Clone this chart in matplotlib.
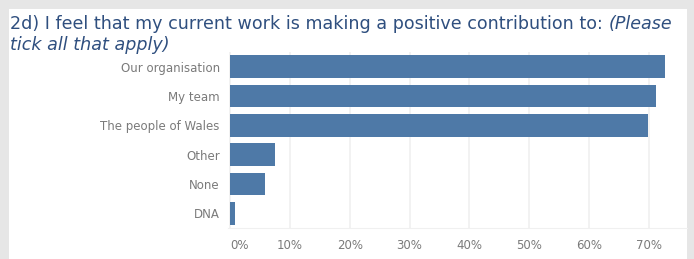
import matplotlib
matplotlib.use("Agg")
import matplotlib.pyplot as plt
from matplotlib.patches import Rectangle
from matplotlib.ticker import FuncFormatter

categories = ["Our organisation", "My team", "The people of Wales", "Other", "None", "DNA"]
percentages = [72.7, 71.2, 69.8, 7.6, 5.8, 0.8]
tick_values = [0, 10, 20, 30, 40, 50, 60, 70]

W, H = 694, 259
fig = plt.figure(figsize=(W / 100, H / 100), dpi=100)
fig.patch.set_facecolor("#e6e6e6")

# white panel behind everything
fig.patches.append(Rectangle((9 / W, 0), (687 - 9) / W, (H - 9) / H,
                             transform=fig.transFigure, facecolor="white",
                             edgecolor="none", zorder=-5))

ax = fig.add_axes([228 / W, (H - 228) / H, (687 - 228) / W, (228 - 52) / H])
ax.set_facecolor("none")
ax.set_zorder(2)

ax.barh(range(len(categories)), percentages, height=0.77, color="#4e79a7", zorder=3)
ax.set_ylim(len(categories) - 0.5, -0.5)
ax.set_xlim(-0.3, 76.3)
ax.set_yticks(range(len(categories)))
ax.set_yticklabels(categories)
ax.set_xticks(tick_values)
ax.xaxis.set_major_formatter(FuncFormatter(lambda v, p: f"{v:.0f}%"))

ax.grid(axis="x", color="#f0f0f0", linewidth=1.2, zorder=0)
for s in ["top", "right", "left"]:
    ax.spines[s].set_visible(False)
ax.spines["bottom"].set_color("#f0f0f0")
ax.tick_params(axis="both", length=0, labelsize=8.5, labelcolor="#7a7a7a")
ax.tick_params(axis="y", pad=6)
ax.tick_params(axis="x", pad=8)

# first x label sits right of the axis start, like the original
fig.canvas.draw()
ax.get_xticklabels()[0].set_horizontalalignment("left")

title_color = "#2f4f7f"
t1 = fig.text(10 / W, 1 - 29 / H,
              "2d) I feel that my current work is making a positive contribution to: ",
              fontsize=12.6, color=title_color, ha="left", va="baseline")
fig.canvas.draw()
bb = t1.get_window_extent()
fig.text(bb.x1 / W, 1 - 29 / H, "(Please", fontsize=12.6, color=title_color,
         style="italic", ha="left", va="baseline")
fig.text(10 / W, 1 - 50 / H, "tick all that apply)", fontsize=12.6, color=title_color,
         style="italic", ha="left", va="baseline")

fig.savefig("out.png", dpi=100)
